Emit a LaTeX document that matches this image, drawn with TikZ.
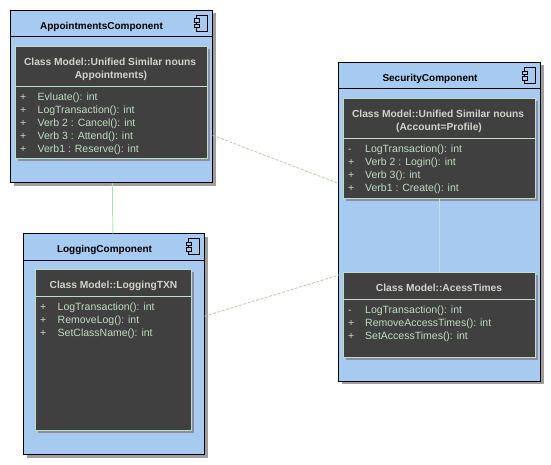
\documentclass[tikz,border=0pt]{standalone}
\usepackage{fontspec}
\setmainfont{Liberation Sans}
\usetikzlibrary{shadows}
\definecolor{compblue}{HTML}{A6CAF0}
\definecolor{boxdark}{HTML}{404040}
\definecolor{paleline}{HTML}{C0DCC0}
\definecolor{linkgreen}{HTML}{B0DCB8}
\definecolor{dashgreen}{HTML}{B8CCA8}
\definecolor{titlegrey}{HTML}{D0D4CC}
\definecolor{innerlink}{HTML}{C4E0DC}
\tikzset{
  comp/.style={draw=black,line width=1pt,fill=compblue,anchor=north west,inner sep=0pt,outer sep=0pt,
    copy shadow={draw=none,fill=black!38,shadow xshift=3pt,shadow yshift=-3pt}},
  classbox/.style={draw=paleline,line width=1pt,fill=boxdark,anchor=north west,inner sep=0pt,outer sep=0pt,
    copy shadow={draw=none,fill=blue!20!black!45,shadow xshift=2.5pt,shadow yshift=-2.5pt}},
  comptitle/.style={font=\fontsize{10}{13}\selectfont\bfseries,text=black,anchor=base,inner sep=0pt},
  classtitle/.style={font=\fontsize{10.25}{13}\selectfont\bfseries,text=titlegrey,anchor=base,inner sep=0pt},
  row/.style={font=\fontsize{10.5}{13}\selectfont,text=paleline,anchor=base west,inner sep=0pt},
  iconbody/.style={draw=black,line width=0.8pt,fill=compblue},
  headline/.style={draw=black,line width=1pt},
  divline/.style={draw=paleline,line width=0.8pt},
  solidlink/.style={draw=linkgreen,line width=0.9pt},
  inlink/.style={draw=innerlink,line width=0.9pt},
  dashlink/.style={draw=dashgreen,line width=0.8pt,dash pattern=on 3pt off 1.5pt},
}
\newcommand{\compicon}[2]{%
  \draw[iconbody] (#1+2,#2) rectangle (#1+13,#2+16);
  \draw[iconbody] (#1,#2+3.5) rectangle (#1+5,#2+7);
  \draw[iconbody] (#1,#2+9) rectangle (#1+5,#2+12.5);
}
\begin{document}
\begin{tikzpicture}[x=1pt,y=-1pt]
\useasboundingbox[fill=white] (0,0) rectangle (551,465);
% components
\node[comp,minimum width=202pt,minimum height=172.5pt] (appt) at (10.5,10.5) {};
\node[comp,minimum width=181pt,minimum height=221pt] (logging) at (23.5,233.5) {};
\node[comp,minimum width=202pt,minimum height=318.5pt] (security) at (338.5,62.5) {};
\draw[headline] (appt.west |- 0,37) -- (appt.east |- 0,37);
\draw[headline] (logging.west |- 0,260.5) -- (logging.east |- 0,260.5);
\draw[headline] (security.west |- 0,89) -- (security.east |- 0,89);
\node[comptitle] (apptT) at (101.5,29.5) {AppointmentsComponent};
\node[comptitle] (logT) at (104.5,252.5) {LoggingComponent};
\node[comptitle] (secT) at (430,81.5) {SecurityComponent};
\compicon{194}{15}
\compicon{186.5}{238.5}
\compicon{522}{67.5}
% connectors
\coordinate (logAim) at (339,275);
\draw[solidlink] (appt) -- (logging);
\draw[dashlink] (appt) -- (security);
\draw[dashlink] (logging) -- (logAim);
% classes
\node[classbox,minimum width=192pt,minimum height=112.5pt] (c1) at (15.5,46.5) {};
\node[classbox,minimum width=155.5pt,minimum height=161pt] (c2) at (35.5,269.5) {};
\node[classbox,minimum width=191.5pt,minimum height=100pt] (c3) at (343.5,98.5) {};
\node[classbox,minimum width=191.5pt,minimum height=85pt] (c4) at (343.5,272) {};
\draw[inlink] (c3) -- (c4);
\draw[divline] (c1.west |- 0,86.5) -- (c1.east |- 0,86.5);
\draw[divline] (c2.west |- 0,296.5) -- (c2.east |- 0,296.5);
\draw[divline] (c3.west |- 0,138.5) -- (c3.east |- 0,138.5);
\draw[divline] (c4.west |- 0,299.5) -- (c4.east |- 0,299.5);
% class titles
\node[classtitle] (c1a) at (110,66) {Class Model::Unified Similar nouns};
\node[classtitle] (c1b) at (111,79) {Appointments)};
\node[classtitle] (c2a) at (113.5,288.5) {Class Model::LoggingTXN};
\node[classtitle] (c3a) at (438,118) {Class Model::Unified Similar nouns};
\node[classtitle] (c3b) at (439,131) {(Account=Profile)};
\node[classtitle] (c4a) at (439,291) {Class Model::AcessTimes};
% appointments rows
\node[row] (r1s) at (20,100.5) {+}; \node[row] (r1t) at (37.5,100.5) {Evluate(): int};
\node[row] (r2s) at (20,113.5) {+}; \node[row] (r2t) at (37.5,113.5) {LogTransaction(): int};
\node[row] (r3s) at (20,126.5) {+}; \node[row] (r3t) at (37.5,126.5) {Verb 2 : Cancel(): int};
\node[row] (r4s) at (20,139.5) {+}; \node[row] (r4t) at (37.5,139.5) {Verb 3 : Attend(): int};
\node[row] (r5s) at (20,152.5) {+}; \node[row] (r5t) at (37.5,152.5) {Verb1 : Reserve(): int};
% logging rows
\node[row] (l1s) at (40,310) {+}; \node[row] (l1t) at (57.5,310) {LogTransaction(): int};
\node[row] (l2s) at (40,323) {+}; \node[row] (l2t) at (57.5,323) {RemoveLog(): int};
\node[row] (l3s) at (40,336) {+}; \node[row] (l3t) at (57.5,336) {SetClassName(): int};
% security rows
\node[row] (s1s) at (348,152.5) {-}; \node[row] (s1t) at (365,152.5) {LogTransaction(): int};
\node[row] (s2s) at (348,165.5) {+}; \node[row] (s2t) at (365,165.5) {Verb 2 : Login(): int};
\node[row] (s3s) at (348,178.5) {+}; \node[row] (s3t) at (365,178.5) {Verb 3(): int};
\node[row] (s4s) at (348,191.5) {+}; \node[row] (s4t) at (365,191.5) {Verb1 : Create(): int};
% access rows
\node[row] (a1s) at (348,313.5) {-}; \node[row] (a1t) at (365,313.5) {LogTransaction(): int};
\node[row] (a2s) at (348,326.5) {+}; \node[row] (a2t) at (365,326.5) {RemoveAccessTimes(): int};
\node[row] (a3s) at (348,339.5) {+}; \node[row] (a3t) at (365,339.5) {SetAccessTimes(): int};
\end{tikzpicture}
\end{document}
